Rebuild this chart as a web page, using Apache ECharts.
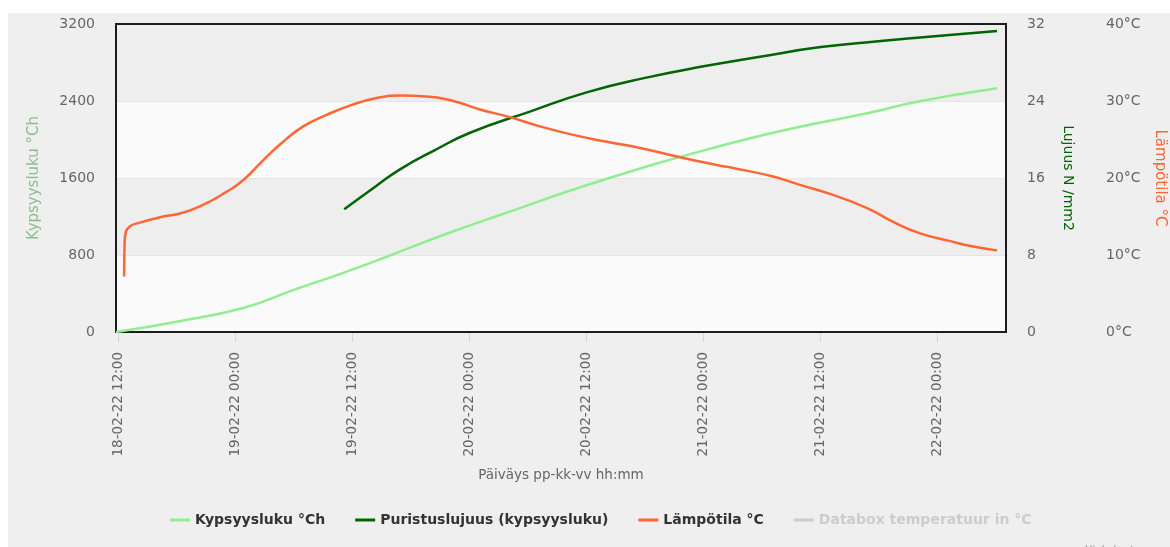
<!DOCTYPE html>
<html>
<head>
<meta charset="utf-8">
<script src="https://cdn.jsdelivr.net/npm/echarts@6/dist/echarts.min.js"></script>
<style>
  html, body { margin: 0; padding: 0; background: #ffffff; }
  #chart { position: absolute; left: 8px; top: 13px; width: 1162px; height: 534px; background: #efefef; }
</style>
</head>
<body>
<div id="chart"></div>
<script>
// Maturity (°Ch) of the concrete over time
const maturityTimes = ['2022-02-18 11:45', '2022-02-18 17:58', '2022-02-19 00:47', '2022-02-19 05:55',
  '2022-02-19 11:03', '2022-02-19 15:30', '2022-02-19 21:18', '2022-02-20 03:07', '2022-02-20 13:41',
  '2022-02-21 01:41', '2022-02-21 09:53', '2022-02-21 16:46', '2022-02-21 21:53', '2022-02-22 06:05'];
const maturityValues = [0, 107, 250, 435, 615, 782, 1008, 1216, 1579, 1932, 2133, 2272, 2393, 2532];

// Compressive strength estimated from maturity (N/mm2)
const strengthTimes = ['2022-02-19 11:09', '2022-02-19 14:28', '2022-02-19 16:52', '2022-02-19 20:27',
  '2022-02-20 00:03', '2022-02-20 06:11', '2022-02-20 12:00', '2022-02-20 18:00', '2022-02-21 00:00',
  '2022-02-21 05:47', '2022-02-21 12:00', '2022-02-21 17:54', '2022-02-22 00:00', '2022-02-22 06:05'];
const strengthValues = [12.75, 15.2, 16.9, 18.9, 20.7, 22.9, 24.9, 26.4, 27.6, 28.6, 29.6, 30.2, 30.75, 31.27];

// Measured temperature (°C)
const tempTimes = ['2022-02-18 12:35', '2022-02-18 12:38', '2022-02-18 12:42', '2022-02-18 13:10',
  '2022-02-18 14:11', '2022-02-18 16:15', '2022-02-18 18:18', '2022-02-18 20:21', '2022-02-18 23:05',
  '2022-02-19 00:47', '2022-02-19 02:50', '2022-02-19 04:53', '2022-02-19 06:57', '2022-02-19 09:21',
  '2022-02-19 11:44', '2022-02-19 14:28', '2022-02-19 16:52', '2022-02-19 19:36', '2022-02-19 22:20',
  '2022-02-20 01:04', '2022-02-20 04:08', '2022-02-20 07:13', '2022-02-20 10:38', '2022-02-20 14:04',
  '2022-02-20 17:29', '2022-02-20 21:55', '2022-02-21 01:41', '2022-02-21 03:01', '2022-02-21 07:07',
  '2022-02-21 09:53', '2022-02-21 13:16', '2022-02-21 16:46', '2022-02-21 19:26', '2022-02-21 22:12',
  '2022-02-22 00:58', '2022-02-22 03:38', '2022-02-22 06:05'];
const tempValues = [7.2, 11.5, 12.6, 13.7, 14.2, 14.9, 15.4, 16.3, 18.2, 19.7, 22.3, 24.7, 26.7, 28.2,
  29.4, 30.4, 30.7, 30.6, 30.0, 28.9, 27.9, 26.7, 25.6, 24.7, 23.9, 22.6, 21.6, 21.3, 20.2, 19.1, 17.8,
  16.1, 14.3, 12.8, 11.9, 11.1, 10.6];

// Databox sensor temperature (hidden in the legend)
const databoxTimes = [];
const databoxValues = [];

// Axis ranges and ticks
const xStart = '2022-02-18 11:45';
const xEnd = '2022-02-22 07:00';
const xTicks = ['2022-02-18 12:00', '2022-02-19 00:00', '2022-02-19 12:00', '2022-02-20 00:00',
  '2022-02-20 12:00', '2022-02-21 00:00', '2022-02-21 12:00', '2022-02-22 00:00'];

// The x axis runs in hours counted from the start of the first day
const EPOCH = '2022-02-18 00:00';
const HOUR = 3600 * 1000;

function parseTime(s) {
  const [d, t] = s.split(' ');
  const [y, mo, da] = d.split('-').map(Number);
  const [h, mi] = t.split(':').map(Number);
  return new Date(y, mo - 1, da, h, mi).getTime();
}
function toHours(s) { return (parseTime(s) - parseTime(EPOCH)) / HOUR; }
function pad(n) { return (n < 10 ? '0' : '') + n; }
function fmtHours(h) {
  const d = new Date(parseTime(EPOCH) + Math.round(h * 60) * 60000);
  return pad(d.getDate()) + '-' + pad(d.getMonth() + 1) + '-' + String(d.getFullYear()).slice(2) +
    ' ' + pad(d.getHours()) + ':' + pad(d.getMinutes());
}
function zip(times, values) { return times.map((t, i) => [toHours(t), values[i]]); }

const FONT = 'DejaVu Sans';
const tickValues = xTicks.map(toHours);

const chart = echarts.init(document.getElementById('chart'), null, { renderer: 'canvas' });
chart.setOption({
  animation: false,
  backgroundColor: '#efefef',
  textStyle: { fontFamily: FONT },
  grid: {
    left: 108, top: 11, right: 164, bottom: 215,
    outerBoundsMode: 'none', containLabel: false,
    show: true, backgroundColor: 'transparent', borderColor: '#1c1c1c', borderWidth: 2, z: 3
  },
  legend: {
    left: 157, top: 495,
    itemGap: 30, itemWidth: 20, itemHeight: 3, icon: 'rect',
    textStyle: { fontFamily: FONT, fontSize: 14, fontWeight: 'bold', color: '#333333' },
    inactiveColor: '#cccccc',
    selected: { 'Databox temperatuur in °C': false },
    data: ['Kypsyysluku °Ch', 'Puristuslujuus (kypsyysluku)', 'Lämpötila °C', 'Databox temperatuur in °C']
  },
  xAxis: {
    type: 'value',
    min: toHours(xStart), max: toHours(xEnd),
    name: 'Päiväys pp-kk-vv hh:mm', nameLocation: 'middle', nameGap: 136,
    nameTextStyle: { fontFamily: FONT, fontSize: 13.5, color: '#666666' },
    axisLine: { show: false },
    axisTick: { show: true, customValues: tickValues, length: 10, lineStyle: { color: '#ccd6eb', width: 1 } },
    axisLabel: {
      customValues: tickValues, rotate: 90, margin: 20,
      fontFamily: FONT, fontSize: 13.5, color: '#666666',
      formatter: (v) => fmtHours(v)
    },
    splitLine: { show: false }
  },
  yAxis: [
    {
      type: 'value', position: 'left', min: 0, max: 3200, interval: 800,
      name: 'Kypsyysluku °Ch', nameLocation: 'middle', nameGap: 74, nameRotate: 90,
      nameTextStyle: { fontFamily: FONT, fontSize: 15, color: '#8fbc8f' },
      axisLine: { show: false }, axisTick: { show: false },
      axisLabel: { margin: 21, fontFamily: FONT, fontSize: 14, color: '#666666', formatter: (v) => String(v) },
      splitLine: { show: true, lineStyle: { color: '#e4e4e4', width: 1 } },
      splitArea: { show: true, areaStyle: { color: ['#fafafa', '#eeeeee'] } }
    },
    {
      type: 'value', position: 'right', min: 0, max: 32, interval: 8,
      name: 'Lujuus N /mm2', nameLocation: 'middle', nameGap: 55, nameRotate: -90,
      nameTextStyle: { fontFamily: FONT, fontSize: 14, color: '#006400' },
      axisLine: { show: false }, axisTick: { show: false },
      axisLabel: { margin: 21, fontFamily: FONT, fontSize: 14, color: '#666666', formatter: (v) => String(v) },
      splitLine: { show: false }
    },
    {
      type: 'value', position: 'right', offset: 80, min: 0, max: 40, interval: 10,
      name: 'Lämpötila °C', nameLocation: 'middle', nameGap: 66, nameRotate: -90,
      nameTextStyle: { fontFamily: FONT, fontSize: 15, color: '#ff6633' },
      axisLine: { show: false }, axisTick: { show: false },
      axisLabel: { margin: 20, fontFamily: FONT, fontSize: 14, color: '#666666', formatter: (v) => v + '°C' },
      splitLine: { show: false }
    }
  ],
  series: [
    {
      name: 'Kypsyysluku °Ch', type: 'line', yAxisIndex: 0,
      data: zip(maturityTimes, maturityValues),
      smooth: 0.5, showSymbol: false,
      itemStyle: { color: '#90ee90' }, lineStyle: { color: '#90ee90', width: 2.5 }, z: 4
    },
    {
      name: 'Puristuslujuus (kypsyysluku)', type: 'line', yAxisIndex: 1,
      data: zip(strengthTimes, strengthValues),
      smooth: 0.5, showSymbol: false,
      itemStyle: { color: '#006400' }, lineStyle: { color: '#006400', width: 2.5 }, z: 5
    },
    {
      name: 'Lämpötila °C', type: 'line', yAxisIndex: 2,
      data: zip(tempTimes, tempValues),
      smooth: 0.5, showSymbol: false,
      itemStyle: { color: '#ff6633' }, lineStyle: { color: '#ff6633', width: 2.5 }, z: 6
    },
    {
      name: 'Databox temperatuur in °C', type: 'line', yAxisIndex: 2,
      data: zip(databoxTimes, databoxValues),
      showSymbol: false,
      itemStyle: { color: '#aaaaaa' }, lineStyle: { color: '#aaaaaa', width: 2.5 }
    }
  ],
  graphic: [
    {
      type: 'text', left: 1077, top: 532, silent: true,
      style: { text: 'Highcharts.com', fontFamily: FONT, fontSize: 10, fill: '#999999' }
    }
  ]
});
</script>
</body>
</html>
